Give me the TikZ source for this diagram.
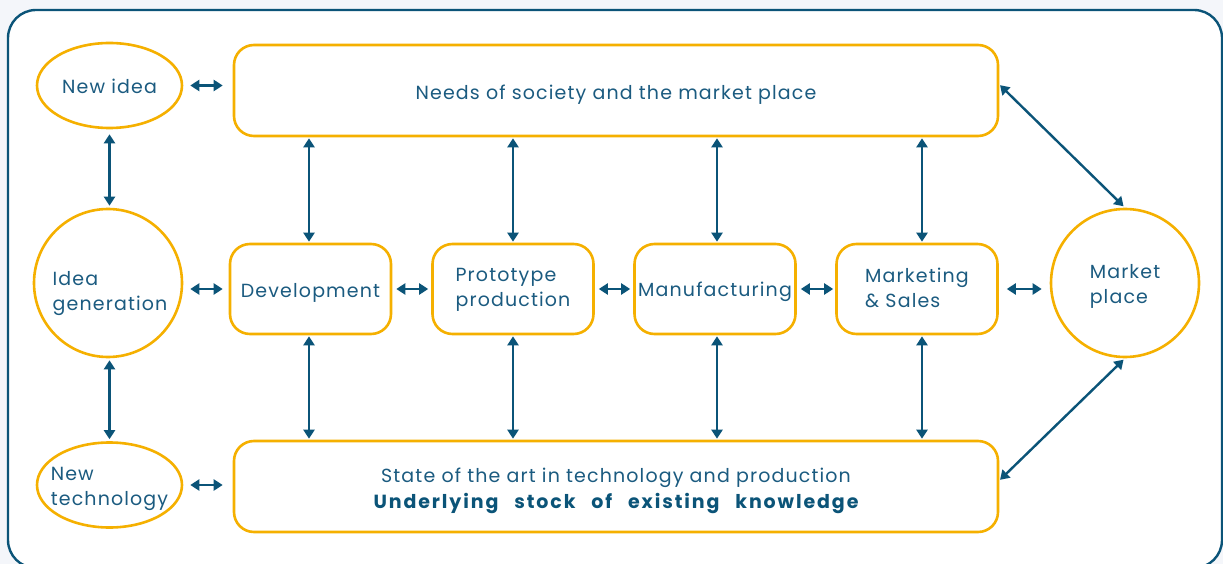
\documentclass[tikz,border=0pt]{standalone}
\usepackage{fontspec}
\setmainfont{Poppins}[LetterSpace=6]
\usetikzlibrary{arrows.meta,shapes.geometric,calc}
\definecolor{navy}{HTML}{0B5478}
\definecolor{txt}{HTML}{1B5B80}
\definecolor{gold}{HTML}{F5B000}
\definecolor{bg}{HTML}{F4F6FA}
\tikzset{
  lbl/.style={text=txt,font=\fontsize{19}{25}\selectfont,align=left,inner sep=0pt},
  shp/.style={draw=gold,line width=2.6pt,fill=white,inner sep=0pt},
  box/.style={shp,rounded corners=20pt},
  oval/.style={shp,ellipse,minimum width=145pt,minimum height=85pt},
  rnd/.style={shp,circle,minimum size=148pt},
  dbl/.style={draw=navy,line width=2.4pt,{Triangle[width=11pt,length=9pt]}-{Triangle[width=11pt,length=9pt]}},
}
\begin{document}
\begin{tikzpicture}[x=1pt,y=-1pt]
\useasboundingbox (0,0) rectangle (1223,564);
\fill[bg] (0,0) rectangle (1223,564);
\draw[navy,line width=2.4pt,fill=white,rounded corners=28pt] (8,10) rectangle (1222,568);

% shapes
\node[oval] (newidea) at (109.5,85.5) {};
\node[rnd] (ideagen) at (108,283) {};
\node[oval] (newtech) at (109.5,485) {};
\node[box,minimum width=764pt,minimum height=91pt] (needs) at (616,90.5) {};
\node[box,minimum width=764pt,minimum height=91pt] (state) at (616,486.5) {};
\node[box,minimum width=161pt,minimum height=90pt] (dev) at (310.5,289) {};
\node[box,minimum width=161pt,minimum height=90pt] (proto) at (513,289) {};
\node[box,minimum width=161pt,minimum height=90pt] (manuf) at (715,289) {};
\node[box,minimum width=161pt,minimum height=90pt] (mark) at (917,289) {};
\node[rnd] (market) at (1125,283) {};

% texts
\node[lbl] (t-newidea) at ($(newidea)+(0,1)$) {New idea};
\node[lbl] (t-ideagen) at ($(ideagen)+(2,10.5)$) {Idea\\generation};
\node[lbl] (t-newtech) at ($(newtech)+(0,4)$) {New\\technology};
\node[lbl] (t-needs) at ($(needs)+(0,4)$) {Needs of society and the market place};
\node[lbl,align=center] (t-state) at ($(state)+(0,4)$) {State of the art in technology and production\\[1pt]\makebox[485pt][s]{\bfseries\color{navy}\addfontfeature{LetterSpace=10}Underlying stock of existing knowledge}};
\node[lbl] (t-dev) at ($(dev)+(0,4)$) {Development};
\node[lbl] (t-proto) at ($(proto)+(0,0.5)$) {Prototype\\production};
\node[lbl] (t-manuf) at ($(manuf)+(0,3)$) {Manufacturing};
\node[lbl] (t-mark) at ($(mark)+(0,-1.5)$) {Marketing\\\& Sales};
\node[lbl] (t-market) at ($(market)+(0,3.5)$) {Market\\place};

% horizontal arrows
\draw[dbl,shorten <=7pt,shorten >=10pt] (newidea.east) -- (newidea.east -| needs.west);
\draw[dbl,shorten <=7pt,shorten >=6pt] (ideagen.east |- dev.west) -- (dev.west);
\draw[dbl,shorten <=7pt,shorten >=10pt] (newtech.east) -- (newtech.east -| state.west);
\draw[dbl,shorten <=4pt,shorten >=3pt] (dev.east) -- (proto.west);
\draw[dbl,shorten <=4pt,shorten >=3pt] (proto.east) -- (manuf.west);
\draw[dbl,shorten <=4pt,shorten >=2pt] (manuf.east) -- (mark.west);
\draw[dbl,shorten <=8pt,shorten >=8pt] (mark.east) -- (mark.east -| market.west);

% vertical arrows left column
\draw[dbl,shorten <=5pt,shorten >=2pt] (newidea.south) -- (newidea.south |- ideagen.north);
\draw[dbl,shorten <=2pt,shorten >=2pt] (newidea.south |- ideagen.south) -- (newidea.south |- newtech.north);

% vertical arrows middle
\foreach \n/\dx in {dev/-1.5,proto/0,manuf/2,mark/5}{
  \coordinate (a) at ($(\n.north)+(\dx,0)$);
  \draw[dbl,shorten <=1pt,shorten >=1pt] (a |- needs.south) -- (a);
  \coordinate (b) at ($(\n.south)+(\dx,0)$);
  \draw[dbl,shorten <=1pt,shorten >=1pt] (b) -- (b |- state.north);
}

% diagonals
\coordinate (nE) at ($(needs.east)+(0,-6)$);
\coordinate (sE) at ($(state.east)+(0,-6)$);
\draw[dbl,shorten <=1pt,shorten >=2pt] (nE) -- (market.north);
\draw[dbl,shorten <=1pt,shorten >=2pt] (sE) -- (market.south);
\end{tikzpicture}
\end{document}
